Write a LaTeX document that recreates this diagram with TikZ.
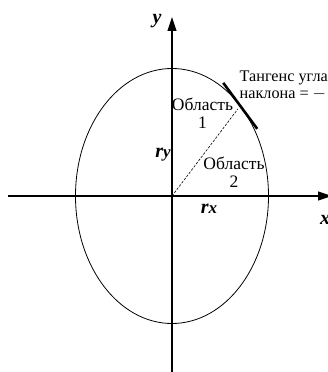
\documentclass[tikz,border=0pt]{standalone}
\usepackage{fontspec}
\setmainfont{Liberation Serif}
\usetikzlibrary{arrows.meta,calc}

\tikzset{
  axis/.style={line width=1.1pt,-{Triangle[length=14pt,width=9pt]}},
  lbl/.style={font=\fontsize{17.5}{18}\selectfont,inner sep=0pt},
  var/.style={font=\fontsize{20}{20}\selectfont\bfseries\itshape,inner sep=0pt},
}

\begin{document}
\begin{tikzpicture}[x=1pt,y=1pt]
\useasboundingbox (-172,-176) rectangle (156,196);
% axes
\coordinate (O) at (0,0);
\coordinate (xmin) at (-164,0);
\coordinate (xmax) at (160,0);
\coordinate (ymin) at (0,-178);
\coordinate (ymax) at (0,179);
\draw[axis] (xmin) -- (xmax);
\draw[axis] (ymin) -- (ymax);
\node[var] (ylab) at (-15,175) {y};
\node[var] (xlab) at (153,-24) {x};
% ellipse
\draw[line width=0.8pt] (O) ellipse[x radius=96.5,y radius=127.5];
\coordinate (P) at (45:96.5 and 127.5);
\draw[line width=2.6pt] ($(P)+(-17,23)$) -- ($(P)+(17,-23)$);
\draw[line width=0.6pt,dash pattern=on 2.5pt off 1.5pt] (O) -- ($(O)!0.965!(P)$);
% labels
\node[var] (ry) at (-9,41) {r\fontsize{17}{17}\selectfont y};
\node[var] (rx) at (37,-13) {r\fontsize{17}{17}\selectfont x};
\node[lbl,align=center] (reg1) at (30.5,83) {Область\\1};
\node[lbl,align=center] (reg2) at (62,24) {Область\\2};
\node[lbl,align=left,anchor=west,font=\fontsize{16.2}{17}\selectfont] (tang) at (67.5,110.3) {Тангенс угла\\наклона = $-$};
\end{tikzpicture}
\end{document}
